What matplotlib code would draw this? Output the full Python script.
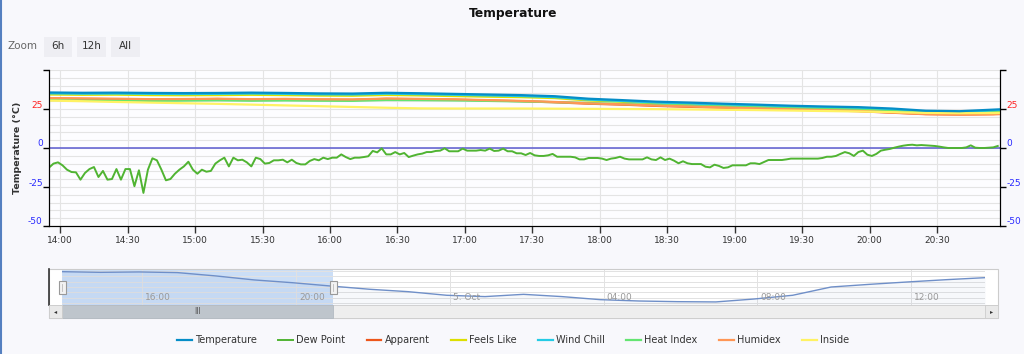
import matplotlib
matplotlib.use("Agg")
import matplotlib.pyplot as plt
import matplotlib.dates as mdates
import pandas as pd
from matplotlib.patches import Rectangle
from matplotlib.lines import Line2D
from matplotlib.ticker import MultipleLocator
from matplotlib.transforms import ScaledTranslation

# ---- data -------------------------------------------------------------
series_names = ["Temperature", "Dew Point", "Apparent", "Feels Like",
                "Wind Chill", "Heat Index", "Humidex", "Inside"]
series_colors = ["#058DC7", "#50B432", "#ED561B", "#DDDF00",
                 "#24CBE5", "#64E572", "#FF9655", "#FFF263"]

# smooth series, every 15 minutes (last reading 20:58)
smooth_times = list(pd.date_range("2023-10-04 13:55", "2023-10-04 20:55", freq="15min")) \
    + [pd.Timestamp("2023-10-04 20:58")]
temperature = [35.6, 35.4, 35.5, 35.3, 35.2, 35.3, 35.5, 35.3, 35.0, 34.9, 35.4, 35.1, 34.7, 34.3, 33.9,
               33.2, 31.6, 30.7, 29.7, 29.1, 28.4, 27.8, 27.1, 26.6, 26.2, 25.3, 23.9, 23.6, 24.6, 24.8]
apparent = [31.8, 31.5, 31.3, 31.0, 31.2, 31.4, 31.0, 31.3, 31.0, 30.9, 31.5, 31.3, 31.0, 30.5, 30.0,
            29.3, 28.4, 27.8, 27.0, 26.4, 25.8, 25.2, 24.6, 24.2, 23.6, 22.6, 21.8, 21.5, 21.8, 22.0]
feels_like = [34.3, 34.1, 34.2, 33.9, 33.8, 33.9, 34.1, 33.9, 33.6, 33.5, 34.0, 33.7, 33.3, 32.9, 32.6,
              32.0, 30.5, 29.6, 28.7, 28.1, 27.4, 26.8, 26.1, 25.6, 25.1, 24.2, 22.9, 22.6, 23.4, 23.6]
wind_chill = [35.0, 34.8, 34.9, 34.7, 34.6, 34.7, 34.9, 34.7, 34.4, 34.3, 34.8, 34.5, 34.1, 33.7, 33.3,
              32.6, 31.0, 30.1, 29.1, 28.5, 27.8, 27.2, 26.5, 26.0, 25.6, 24.7, 23.3, 23.0, 24.0, 24.2]
heat_index = [30.8, 30.6, 30.5, 30.2, 30.4, 30.6, 30.3, 30.5, 30.3, 30.2, 30.8, 30.7, 30.5, 30.2, 29.8,
              29.4, 28.8, 28.2, 27.6, 27.0, 26.5, 26.0, 25.4, 25.0, 24.5, 23.6, 22.6, 22.3, 22.6, 22.8]
humidex = [32.0, 31.8, 31.6, 31.3, 31.4, 31.6, 31.3, 31.5, 31.2, 31.1, 31.7, 31.5, 31.2, 30.7, 30.2,
           29.5, 28.6, 28.0, 27.2, 26.6, 26.0, 25.4, 24.8, 24.3, 23.8, 22.8, 21.6, 21.3, 21.5, 21.7]
inside = [30.4, 30.0, 29.5, 29.1, 28.7, 28.3, 27.8, 27.3, 26.8, 26.3, 25.8, 25.4, 25.3, 25.3, 25.3,
          25.2, 25.1, 25.0, 24.9, 24.7, 24.5, 24.3, 24.0, 23.7, 23.4, 23.0, 22.5, 22.3, 22.4, 22.5]

# dew point, every 2 minutes from 13:55
dew_point = [
    -12.6, -10.0, -9.2, -11.1, -13.9, -15.4, -15.6, -20.3, -16.0, -13.5,
    -12.2, -18.6, -14.7, -20.3, -19.9, -13.5, -20.3, -13.5, -13.5, -24.5,
    -14.3, -28.8, -13.9, -6.6, -7.9, -13.9, -20.7, -19.9, -16.5, -13.9,
    -11.8, -8.8, -13.9, -16.5, -13.9, -15.2, -14.7, -10.0, -7.9, -6.2,
    -11.8, -6.2, -7.9, -7.5, -9.2, -11.8, -6.2, -7.1, -10.0, -9.6,
    -7.9, -7.9, -7.5, -9.2, -7.5, -9.6, -10.5, -10.5, -8.3, -7.1,
    -7.9, -6.2, -7.1, -6.2, -6.2, -4.1, -5.8, -7.1, -6.2, -6.2,
    -5.8, -5.3, -1.9, -2.8, -0.2, -4.1, -4.1, -2.6, -4.1, -3.2,
    -5.8, -4.9, -4.1, -3.6, -2.6, -2.6, -1.9,
    -1.7, -0.2, -2.1, -2.1, -2.1, -0.4, -1.7, -1.7, -1.7, -1.3,
    -1.7, -0.4, -1.9, -1.7, -0.4, -2.1, -2.1, -3.4, -3.4, -4.5,
    -3.2, -4.7, -5.1, -5.1, -4.7, -3.8, -5.6, -5.6, -5.6, -5.6,
    -6.0, -7.3, -7.3, -6.4, -6.4, -6.4, -6.8, -7.7, -6.8, -6.4,
    -5.6, -6.8, -7.3, -7.3, -7.3, -7.3, -6.0, -7.3, -7.7, -6.0,
    -7.7, -6.8, -8.1, -9.8, -8.5, -9.8, -10.3, -10.3, -10.3, -12.0,
    -12.4, -10.7, -11.5, -12.8, -12.4, -11.1, -11.1, -11.1, -11.1, -9.8,
    -9.8, -10.3, -9.0, -7.7, -7.7, -7.7, -7.7, -7.3, -6.8, -6.8,
    -6.8, -6.8, -6.8, -6.8, -6.8, -6.4, -5.6, -5.6, -5.1, -3.8,
    -2.6, -3.4, -5.1, -2.6, -1.7, -4.3, -5.1, -3.8, -1.7, -1.1,
    -0.6, 0.2, 0.9, 1.5, 1.9, 2.1, 1.7, 1.9, 1.7, 1.5,
    1.3, 0.9, 0.4, 0.0, 0.0, 0.0, 0.0, 0.4, 1.7, 0.2,
    0.0, 0.0, 0.2, 0.4, 1.3,
]
dew_times = pd.date_range("2023-10-04 13:55", periods=len(dew_point), freq="2min")

# navigator: 24 h of temperature, hourly
nav_times = pd.date_range("2023-10-04 13:55", "2023-10-05 13:55", freq="1h")
nav_temp = [35.6, 35.1, 35.4, 34.9, 32.4, 29.4, 27.3, 24.8, 22.4, 20.6, 17.9, 16.9, 18.6,
            16.9, 14.6, 13.6, 13.1, 12.9, 15.1, 17.9, 24.1, 26.1, 27.9, 29.6, 31.1]
nav_ticks = pd.date_range("2023-10-04 16:00", periods=6, freq="4h")

view_start = pd.Timestamp("2023-10-04 13:55")
view_end = pd.Timestamp("2023-10-04 20:58")

y_ticks = [-50, -25, 0, 25, 50]
y_labels = ["-50", "-25", "0", "25", ""]

# ---- figure -------------------------------------------------------------
W, H = 1024, 354
BG = "#f8f8fc"
fig = plt.figure(figsize=(W / 100, H / 100), dpi=100, facecolor=BG)


def fx(px):
    return px / W


def fy(py):
    return 1 - py / H


ax = fig.add_axes([fx(49), fy(226), fx(951), 156 / H])
ax.set_facecolor("#fdfdff")

values = [temperature, dew_point, apparent, feels_like, wind_chill, heat_index, humidex, inside]
handles = []
for name, col, vals in zip(series_names, series_colors, values):
    t = dew_times if name == "Dew Point" else smooth_times
    lw = 1.4 if name == "Dew Point" else 1.6
    z = 4 if name == "Temperature" else 3
    ln, = ax.plot(t, vals, color=col, lw=lw, label=name, zorder=z, solid_joinstyle="round")
    handles.append(ln)

ax.axhline(0, color="#5b5bd0", lw=1.1, zorder=2)

ax.set_xlim(view_start, view_end)
ax.set_ylim(-50, 50)
ax.xaxis.set_major_locator(mdates.MinuteLocator(byminute=[0, 30]))
ax.xaxis.set_major_formatter(mdates.DateFormatter("%H:%M"))
ax.yaxis.set_minor_locator(MultipleLocator(5))
ax.set_yticks(y_ticks, y_labels)
ax.grid(True, which="both", color="#e4e4e4", lw=0.8, zorder=0)
ax.set_axisbelow(True)

ax.tick_params(axis="x", length=5, width=1, color="#333333", labelsize=6.5,
               labelcolor="#333333", pad=2)
ax.tick_params(axis="y", which="major", length=4, width=1, color="black",
               labelsize=6.5, pad=0.5)
ax.tick_params(axis="y", which="minor", length=0)

ax.spines["top"].set_visible(False)
ax.spines["left"].set_color("black")
ax.spines["right"].set_color("black")
ax.spines["bottom"].set_color("#333333")

up = ScaledTranslation(0, 5 / 100, fig.dpi_scale_trans)
for lab, v in zip(ax.get_yticklabels(), y_ticks):
    lab.set_color("#ff2222" if v > 0 else "#2a2aff")
    lab.set_transform(lab.get_transform() + up)

ax2 = ax.twinx()
ax2.set_ylim(-50, 50)
ax2.set_yticks(y_ticks, y_labels)
ax2.tick_params(axis="y", length=4, width=1, color="black", labelsize=6.5, pad=0.5)
ax2.spines["top"].set_visible(False)
ax2.spines["right"].set_color("black")
for lab, v in zip(ax2.get_yticklabels(), y_ticks):
    lab.set_color("#ff2222" if v > 0 else "#2a2aff")
    lab.set_transform(lab.get_transform() + up)

fig.text(fx(18), fy(148), "Temperature (°C)", rotation=90, ha="center", va="center",
         fontsize=6.8, fontweight="bold", color="#333333")
fig.text(fx(513), fy(13), "Temperature", ha="center", va="center",
         fontsize=8.8, fontweight="bold", color="#111111")

# zoom buttons
fig.text(fx(8), fy(46), "Zoom", ha="left", va="center", fontsize=7.5, color="#666666")
for label, x0, x1 in [("6h", 44, 72), ("12h", 77, 106), ("All", 111, 140)]:
    fig.add_artist(Rectangle((fx(x0), fy(57)), fx(x1 - x0), 20 / H,
                             transform=fig.transFigure, facecolor="#eeeef3",
                             edgecolor="none", zorder=1))
    fig.text(fx((x0 + x1) / 2), fy(46), label, ha="center", va="center",
             fontsize=7.5, color="#333333", zorder=2)

# ---- navigator -------------------------------------------------------------
fig.add_artist(Rectangle((fx(49), fy(305)), fx(949), 36 / H, transform=fig.transFigure,
                         facecolor="white", edgecolor="none", zorder=-1))
nav = fig.add_axes([fx(62), fy(305), fx(923), 36 / H])
nav.set_facecolor("none")
nav.plot(nav_times, nav_temp, color="#6f8fc8", lw=1.0, zorder=3)
nav.fill_between(nav_times, nav_temp, 0, color="#6f8fc8", alpha=0.06, lw=0, zorder=2)
nav.axvspan(view_start, view_end, color="#a9c8f0", alpha=0.6, lw=0, zorder=1)
nav.set_xlim(nav_times[0], nav_times[-1])
nav.set_ylim(10.6, 37.6)
nav.yaxis.set_major_locator(MultipleLocator(4))
nav.set_xticks(list(nav_ticks))
nav.grid(True, color="#e2e2e2", lw=0.7, zorder=0)
nav.tick_params(length=0, labelbottom=False, labelleft=False)
for s in nav.spines.values():
    s.set_visible(False)
shift = ScaledTranslation(3 / 100, 0, fig.dpi_scale_trans)
for t in nav_ticks:
    txt = "5. Oct" if t.hour == 0 else t.strftime("%H:%M")
    nav.text(t, 0.2, txt, transform=nav.get_xaxis_transform() + shift, fontsize=6.5,
             color="#999999", ha="left", va="center", zorder=4)

# outline and dark left edge
fig.add_artist(Rectangle((fx(49), fy(318)), fx(949), 49 / H, transform=fig.transFigure,
                         fill=False, edgecolor="#cccccc", lw=0.8, zorder=5))
fig.add_artist(Line2D([fx(49), fx(49)], [fy(269), fy(305)], transform=fig.transFigure,
                      color="#333333", lw=1.2, zorder=6))

# handles at selection edges
for xp in [62, 333]:
    fig.add_artist(Rectangle((fx(xp - 3.5), fy(294)), fx(7), 13 / H, transform=fig.transFigure,
                             facecolor="#f2f2f2", edgecolor="#999999", lw=0.8, zorder=7))
    fig.add_artist(Line2D([fx(xp), fx(xp)], [fy(291), fy(284)], transform=fig.transFigure,
                          color="#bbbbbb", lw=0.6, zorder=8))

# scrollbar
fig.add_artist(Rectangle((fx(49), fy(318)), fx(949), 13 / H, transform=fig.transFigure,
                         facecolor="#eeeeee", edgecolor="#cccccc", lw=0.6, zorder=5))
fig.add_artist(Rectangle((fx(62), fy(318)), fx(271), 13 / H, transform=fig.transFigure,
                         facecolor="#bec5cc", edgecolor="#b3bac2", lw=0.6, zorder=6))
fig.text(fx(197.5), fy(311.5), "III", ha="center", va="center", fontsize=5.5, color="#555555",
         zorder=7)
for x0, arrow in [(49, "◂"), (985, "▸")]:
    fig.add_artist(Rectangle((fx(x0), fy(318)), fx(13), 13 / H, transform=fig.transFigure,
                             facecolor="#e9e9e9", edgecolor="#cccccc", lw=0.6, zorder=6))
    fig.text(fx(x0 + 6.5), fy(311.5), arrow, ha="center", va="center", fontsize=4.5,
             color="#333333", zorder=7)

# legend
fig.legend(handles, series_names, loc="center", bbox_to_anchor=(fx(513), fy(340)),
           ncol=8, frameon=False, fontsize=7, handlelength=1.5, handletextpad=0.35,
           columnspacing=2.2, labelcolor="#333333")

# left page edge
fig.add_artist(Line2D([0.0012, 0.0012], [0, 1], transform=fig.transFigure,
                      color="#5580c0", lw=1.5))

fig.savefig("out.png", dpi=100, facecolor=BG)
